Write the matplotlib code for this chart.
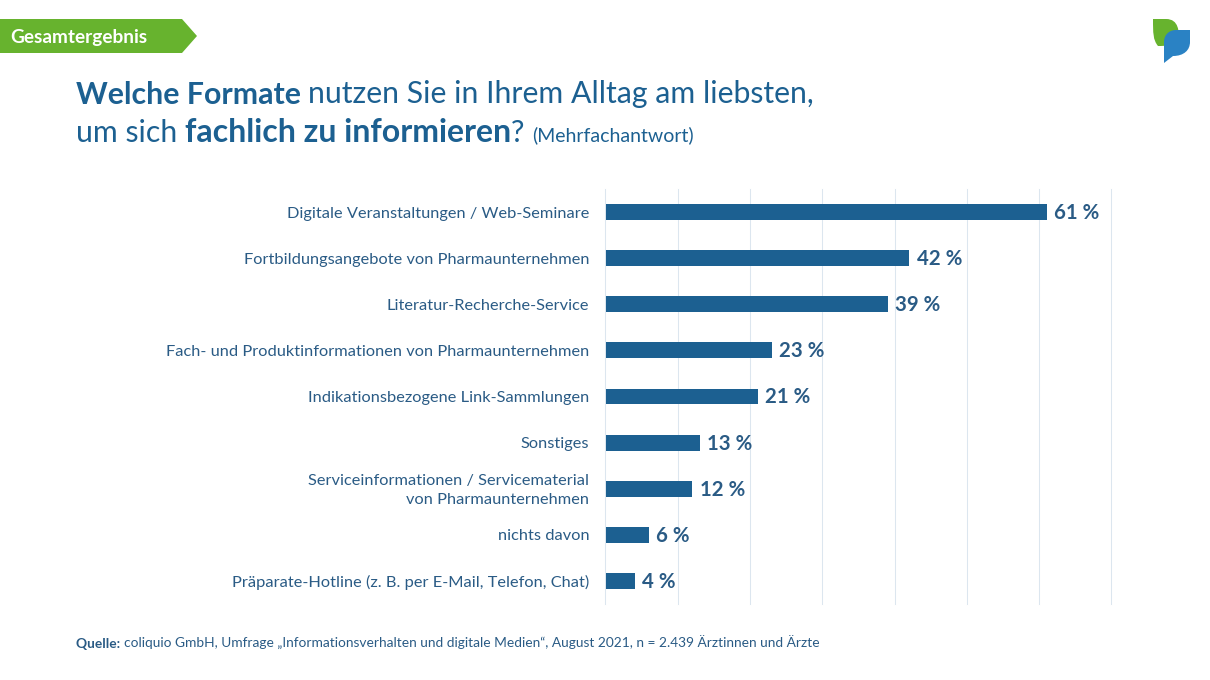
"""Gesamtergebnis: bevorzugte Formate zur fachlichen Information."""

import matplotlib
matplotlib.use("Agg")
import matplotlib.pyplot as plt
from matplotlib.patches import PathPatch, Polygon
from matplotlib.path import Path
from matplotlib.transforms import Affine2D

WIDTH, HEIGHT = 1210, 680
BLUE = "#1c6091"
TEXT_BLUE = "#2a5b85"
GREEN = "#67b32e"
GRID = "#dce6ef"
FONT = "Lato"

categories = [
    "Digitale Veranstaltungen / Web-Seminare",
    "Fortbildungsangebote von Pharmaunternehmen",
    "Literatur-Recherche-Service",
    "Fach- und Produktinformationen von Pharmaunternehmen",
    "Indikationsbezogene Link-Sammlungen",
    "Sonstiges",
    "Serviceinformationen / Servicematerial\nvon Pharmaunternehmen",
    "nichts davon",
    "Präparate-Hotline (z. B. per E-Mail, Telefon, Chat)",
]
values = [61, 42, 39, 23, 21, 13, 12, 6, 4]
grid_ticks = [0, 10, 20, 30, 40, 50, 60, 70]

plt.rcParams["font.family"] = [FONT, "DejaVu Sans"]


def write_runs(page, x, y, runs, color=BLUE):
    # text pieces in one line, each starts where the last one ended
    renderer = page.figure.canvas.get_renderer()
    for string, size, weight in runs:
        piece = page.text(x, y, string, fontsize=size, fontweight=weight,
                          color=color, va="baseline", ha="left")
        x += piece.get_window_extent(renderer).width


fig = plt.figure(figsize=(WIDTH / 100, HEIGHT / 100), dpi=100, facecolor="white")

# page layer in pixel coordinates, y pointing down
page = fig.add_axes([0, 0, 1, 1])
page.set_xlim(0, WIDTH)
page.set_ylim(HEIGHT, 0)
page.axis("off")

page.add_patch(Polygon([(0, 19), (182, 19), (197, 36), (182, 53), (0, 53)],
                       closed=True, facecolor=GREEN, edgecolor="none"))
page.text(10, 37, "Gesamtergebnis", color="white", fontsize=13.7,
          fontweight="bold", va="center", ha="left")

# logo leaves
leaf_green = Path(
    [(1153, 19), (1166, 19), (1179, 19), (1179, 32), (1179, 40), (1172, 46),
     (1165, 46), (1158, 46), (1153, 40), (1153, 33), (1153, 19)],
    [Path.MOVETO, Path.LINETO, Path.CURVE4, Path.CURVE4, Path.CURVE4, Path.CURVE4,
     Path.CURVE4, Path.CURVE4, Path.CURVE4, Path.CURVE4, Path.CLOSEPOLY],
)
page.add_patch(PathPatch(leaf_green, facecolor=GREEN, edgecolor="none"))
leaf_blue = Path(
    [(1176, 30), (1190, 30), (1190, 42), (1190, 50), (1184, 56), (1173, 56),
     (1164, 63), (1164, 63), (1164, 42), (1164, 35), (1169, 30), (1176, 30), (1176, 30)],
    [Path.MOVETO, Path.LINETO, Path.LINETO, Path.CURVE4, Path.CURVE4, Path.CURVE4,
     Path.LINETO, Path.LINETO, Path.LINETO, Path.CURVE4, Path.CURVE4, Path.CURVE4,
     Path.CLOSEPOLY],
)
page.add_patch(PathPatch(leaf_blue, facecolor="#2a82c4", edgecolor="none"))

fig.canvas.draw()
write_runs(page, 76, 103.5, [("Welche Formate ", 21.8, "bold"),
                             ("nutzen Sie in Ihrem Alltag am liebsten,", 21.8, "normal")])
write_runs(page, 76, 141.5, [("um sich ", 21.8, "normal"),
                             ("fachlich zu informieren", 23, "bold"),
                             ("? ", 21.8, "normal"),
                             ("(Mehrfachantwort)", 14, "normal")])
write_runs(page, 76, 648, [("Quelle: ", 9.9, "bold"),
                           ("coliquio GmbH, Umfrage „Informationsverhalten und digitale Medien“, "
                            "August 2021, n = 2.439 Ärztinnen und Ärzte", 9.9, "normal")],
           color=TEXT_BLUE)

# chart, placed so that 0-70 % spans the grid lines
left, right, top, bottom = 605.4, 1111.4, 189, 604
ax = fig.add_axes([left / WIDTH, 1 - bottom / HEIGHT,
                   (right - left) / WIDTH, (bottom - top) / HEIGHT])
ax.patch.set_alpha(0)
positions = list(range(len(categories)))
bars = ax.barh(positions, values, height=0.345, color=BLUE, zorder=3)
# bars sit just right of the zero grid line
for bar in bars:
    bar.set_transform(ax.transData + Affine2D().translate(0.3, 0))
ax.set_xlim(0, 70)
ax.set_ylim(len(categories) - 0.5, -0.5)
ax.set_xticks(grid_ticks)
ax.set_xticklabels([])
ax.set_yticks(positions)
ax.set_yticklabels([])
ax.tick_params(axis="both", length=0)
ax.grid(axis="x", color=GRID, linewidth=0.75, zorder=0, clip_on=False)
for spine in ax.spines.values():
    spine.set_visible(False)

for pos, name in zip(positions, categories):
    ax.annotate(name, (0, pos), xytext=(-11.5, -1.2), textcoords="offset points",
                va="center", ha="right", ma="right", fontsize=11.8, color=TEXT_BLUE,
                linespacing=1.5)

for pos, value in zip(positions, values):
    ax.annotate(f"{value} %", (value, pos), xytext=(5.5, -0.7), textcoords="offset points",
                va="center", ha="left", fontsize=14.7, fontweight="bold", color=TEXT_BLUE,
                zorder=4)

fig.savefig("out.png", dpi=100)
